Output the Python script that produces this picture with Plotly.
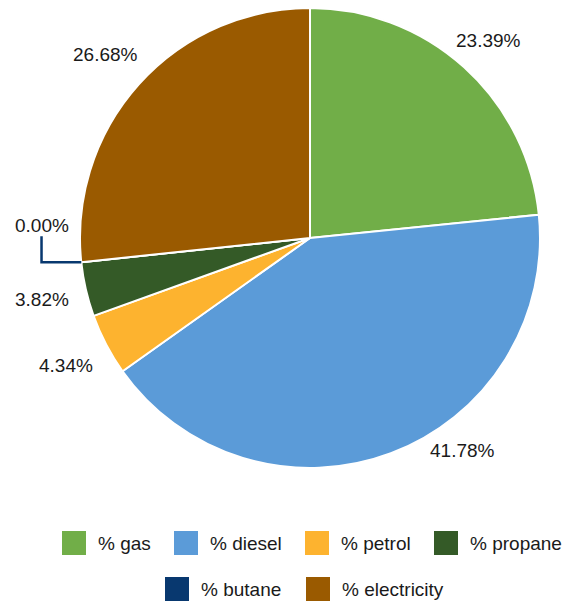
import plotly.graph_objects as go
import math

labels = ["% gas", "% diesel", "% petrol", "% propane", "% butane", "% electricity"]
values = [23.39, 41.78, 4.34, 3.82, 0.00, 26.68]
colors = ["#71AE48", "#5B9BD8", "#FDB32F", "#345A27", "#08386F", "#9A5A00"]

W, H = 569, 603
cx, cy, R = 310, 238, 230  # pixel geometry of the pie
LABEL_R_RIGHT = R + 36
LABEL_R_LEFT = R + 45
Y_MAX = 450
FONT = dict(size=19, color="#1a1a1a", family="Liberation Sans, Arial")

px = lambda x: x / W
py = lambda y: 1 - y / H

fig = go.Figure()
fig.add_trace(go.Pie(
    labels=labels, values=values, sort=False, direction="clockwise", rotation=0,
    marker=dict(colors=colors, line=dict(color="white", width=2)),
    textinfo="none", showlegend=False, hoverinfo="label+value",
    domain=dict(x=[px(cx - R), px(cx + R)], y=[py(cy + R), py(cy - R)]),
))

shapes = []
annotations = []
total = sum(values)
cum = 0.0
for lab, v, col in zip(labels, values, colors):
    mid = (cum + v / 2) / total * 2 * math.pi
    start = cum / total * 2 * math.pi
    cum += v
    txt = f"{v:.2f}%"
    right = math.sin(mid) >= 0
    LR = LABEL_R_RIGHT if right else LABEL_R_LEFT
    if v == 0:
        # zero slice: label lifted above, elbow connector to pie edge
        ex, ey = cx + R * math.sin(start), cy - R * math.cos(start)
        lx = cx + LABEL_R_LEFT * math.sin(start) + 5
        shapes.append(dict(type="path", xref="paper", yref="paper",
                           path=f"M {px(lx)} {py(ey - 26)} L {px(lx)} {py(ey)} L {px(ex)} {py(ey)}",
                           line=dict(color=col, width=2.5)))
        annotations.append(dict(xref="paper", yref="paper", x=px(lx), y=py(ey - 37),
                                xanchor="center", yanchor="middle", text=txt,
                                showarrow=False, font=FONT))
        continue
    lx = cx + LR * math.sin(mid)
    ly = cy - LR * math.cos(mid)
    if ly > Y_MAX:
        ly = Y_MAX
        dx = math.sqrt(max(LR ** 2 - (ly - cy) ** 2, 0))
        lx = cx + (dx if right else -dx) - 8
    annotations.append(dict(xref="paper", yref="paper", x=px(lx), y=py(ly),
                            xanchor="center", yanchor="middle", text=txt,
                            showarrow=False, font=FONT))

# legend
legend_pos = [(62, 543), (174, 543), (305, 543), (434, 543), (165, 589), (306, 589)]
for (lx, ly), lab, col in zip(legend_pos, labels, colors):
    shapes.append(dict(type="rect", xref="paper", yref="paper",
                       x0=px(lx), x1=px(lx + 24), y0=py(ly - 12), y1=py(ly + 12),
                       fillcolor=col, line=dict(width=0)))
    annotations.append(dict(xref="paper", yref="paper", x=px(lx + 34), y=py(ly), xanchor="left",
                            yanchor="middle", text=lab, showarrow=False, font=FONT))

fig.update_layout(width=W, height=H, margin=dict(l=0, r=0, t=0, b=0),
                  paper_bgcolor="white", plot_bgcolor="white",
                  shapes=shapes, annotations=annotations)
fig.write_html("out.html", post_script="document.body.style.margin='0';",
               config={"displayModeBar": False})
